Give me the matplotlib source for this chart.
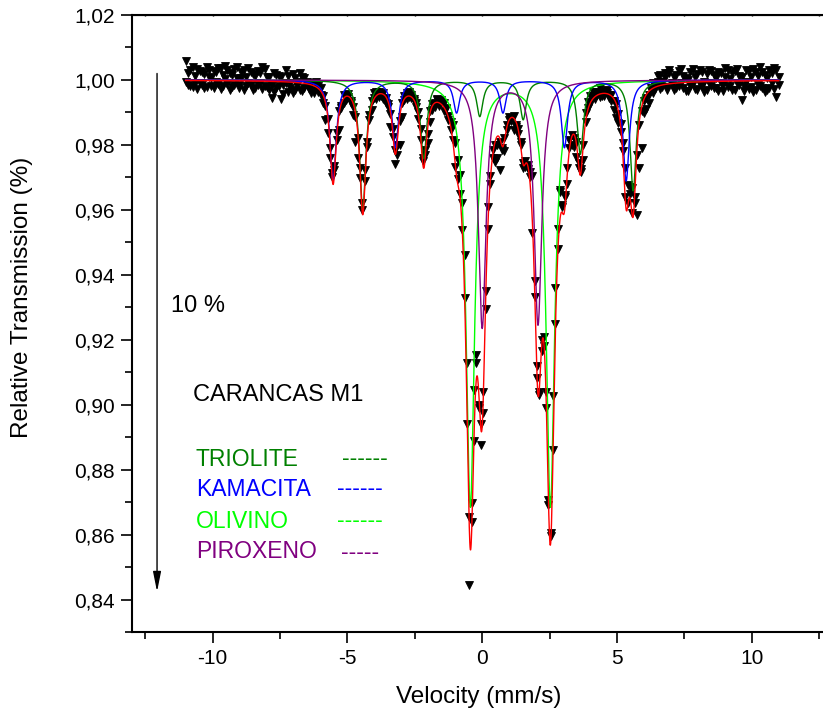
import matplotlib
matplotlib.use('Agg')
import matplotlib.pyplot as plt
from matplotlib.ticker import MultipleLocator, FuncFormatter
import numpy as np

plt.rcParams['font.family'] = ['Liberation Sans', 'DejaVu Sans']
plt.rcParams['axes.unicode_minus'] = False

# %% measured spectrum, both halves (256 channels each, -11 .. 11 mm/s)
velStart, velStop, nChan = -11.0, 11.0, 256
transmissionA = [
    1.0058, 0.9985, 1.0030, 0.9978, 1.0012, 1.0035, 0.9990, 1.0025, 0.9975, 1.0040,
    1.0008, 0.9982, 1.0028, 0.9995, 1.0038, 0.9972, 1.0015, 1.0042, 0.9988, 1.0020,
    0.9979, 1.0033, 1.0005, 0.9984, 1.0026, 0.9970, 1.0010, 1.0036, 0.9986, 1.0018,
    0.9976, 1.0028, 0.9992, 1.0040, 0.9980, 1.0008, 0.9968, 0.9944, 1.0022, 0.9975,
    1.0012, 0.9942, 0.9985, 1.0030, 0.9962, 0.9990, 1.0018, 0.9970, 0.9995, 1.0022,
    0.9965, 1.0005, 0.9985, 0.9980, 0.9960, 0.9959, 0.9995, 0.9980, 0.9955, 0.9930,
    0.9877, 0.9836, 0.9760, 0.9713, 0.9723, 0.9815, 0.9846, 0.9913, 0.9930, 0.9944,
    0.9949, 0.9935, 0.9892, 0.9810, 0.9759, 0.9698, 0.9620, 0.9723, 0.9810, 0.9892,
    0.9908, 0.9959, 0.9964, 0.9949, 0.9955, 0.9940, 0.9930, 0.9918, 0.9856, 0.9826,
    0.9742, 0.9770, 0.9800, 0.9887, 0.9938, 0.9959, 0.9948, 0.9955, 0.9940, 0.9918,
    0.9880, 0.9850, 0.9759, 0.9785, 0.9805, 0.9870, 0.9908, 0.9928, 0.9938, 0.9925,
    0.9938, 0.9928, 0.9910, 0.9877, 0.9872, 0.9862, 0.9805, 0.9754, 0.9708, 0.9620,
    0.9460, 0.9128, 0.8446, 0.8697, 0.9046, 0.9154, 0.9000, 0.8875, 0.8976, 0.9294,
    0.9610, 0.9703, 0.9785, 0.9749, 0.9800, 0.9723, 0.9785, 0.9780, 0.9862, 0.9877,
    0.9882, 0.9846, 0.9856, 0.9850, 0.9800, 0.9743, 0.9733, 0.9738, 0.9718, 0.9528,
    0.9333, 0.9083, 0.9041, 0.9200, 0.9210, 0.8990, 0.8706, 0.8607, 0.9026, 0.9359,
    0.9540, 0.9660, 0.9615, 0.9645, 0.9680, 0.9815, 0.9800, 0.9795, 0.9764, 0.9728,
    0.9718, 0.9754, 0.9897, 0.9933, 0.9950, 0.9964, 0.9958, 0.9954, 0.9974, 0.9950,
    0.9962, 0.9959, 0.9955, 0.9935, 0.9908, 0.9882, 0.9867, 0.9841, 0.9805, 0.9730,
    0.9677, 0.9672, 0.9667, 0.9620, 0.9585, 0.9728, 0.9790, 0.9897, 0.9910, 0.9928,
    0.9974, 0.9960, 0.9985, 1.0012, 0.9972, 0.9995, 1.0020, 0.9978, 1.0030, 0.9990,
    0.9968, 1.0015, 0.9982, 1.0034, 0.9975, 1.0005, 0.9965, 1.0025, 0.9988, 1.0010,
    0.9970, 1.0032, 0.9980, 0.9962, 1.0018, 0.9992, 1.0028, 0.9974, 1.0006, 0.9966,
    1.0022, 0.9985, 1.0036, 0.9978, 1.0003, 0.9969, 1.0027, 0.9990, 1.0012, 0.9938,
    0.9980, 1.0030, 0.9972, 1.0008, 0.9963, 1.0024, 0.9986, 1.0040, 0.9975, 1.0015,
    0.9968, 1.0032, 0.9992, 1.0038, 0.9949, 1.0010,
]
transmissionB = [
    0.9995, 1.0020, 0.9980, 1.0040, 0.9990, 0.9972, 1.0028, 0.9985, 1.0018, 0.9978,
    1.0032, 1.0005, 0.9975, 1.0024, 0.9988, 1.0036, 0.9982, 1.0002, 1.0030, 0.9970,
    1.0014, 0.9986, 1.0040, 0.9976, 1.0006, 1.0030, 0.9980, 0.9992, 1.0026, 0.9968,
    1.0012, 0.9984, 1.0020, 0.9972, 1.0034, 0.9978, 1.0010, 0.9985, 0.9962, 1.0016,
    0.9980, 1.0008, 0.9958, 0.9990, 1.0012, 0.9975, 0.9960, 1.0005, 0.9982, 0.9970,
    1.0010, 0.9975, 0.9995, 0.9972, 0.9990, 0.9970, 0.9985, 0.9962, 0.9975, 0.9950,
    0.9920, 0.9880, 0.9790, 0.9700, 0.9735, 0.9836, 0.9903, 0.9920, 0.9955, 0.9938,
    0.9958, 0.9930, 0.9918, 0.9885, 0.9820, 0.9730, 0.9600, 0.9690, 0.9795, 0.9878,
    0.9935, 0.9945, 0.9940, 0.9962, 0.9950, 0.9960, 0.9944, 0.9925, 0.9895, 0.9850,
    0.9785, 0.9800, 0.9875, 0.9930, 0.9950, 0.9940, 0.9962, 0.9945, 0.9935, 0.9930,
    0.9900, 0.9815, 0.9750, 0.9770, 0.9835, 0.9905, 0.9925, 0.9918, 0.9942, 0.9920,
    0.9932, 0.9905, 0.9915, 0.9890, 0.9845, 0.9815, 0.9733, 0.9695, 0.9650, 0.9538,
    0.9330, 0.8940, 0.8656, 0.8640, 0.8890, 0.9128, 0.8990, 0.8940, 0.9040, 0.9350,
    0.9540, 0.9680, 0.9760, 0.9800, 0.9760, 0.9810, 0.9790, 0.9820, 0.9845, 0.9885,
    0.9875, 0.9890, 0.9860, 0.9835, 0.9810, 0.9730, 0.9750, 0.9725, 0.9700, 0.9703,
    0.9380, 0.9120, 0.9030, 0.9165, 0.9180, 0.9040, 0.8692, 0.8595, 0.8860, 0.9250,
    0.9480, 0.9656, 0.9610, 0.9640, 0.9728, 0.9790, 0.9830, 0.9820, 0.9810, 0.9745,
    0.9725, 0.9800, 0.9870, 0.9915, 0.9925, 0.9950, 0.9940, 0.9962, 0.9948, 0.9966,
    0.9952, 0.9968, 0.9945, 0.9955, 0.9935, 0.9925, 0.9895, 0.9865, 0.9780, 0.9640,
    0.9620, 0.9650, 0.9590, 0.9641, 0.9770, 0.9860, 0.9905, 0.9935, 0.9945, 0.9954,
    0.9965, 0.9990, 0.9972, 0.9995, 1.0015, 0.9978, 1.0005, 0.9968, 1.0022, 0.9985,
    1.0010, 0.9975, 1.0028, 0.9990, 1.0012, 0.9966, 1.0000, 0.9980, 1.0033, 0.9972,
    1.0018, 0.9988, 1.0024, 0.9995, 0.9970, 1.0030, 0.9982, 1.0015, 0.9975, 1.0026,
    0.9992, 0.9965, 1.0008, 1.0030, 0.9980, 1.0020, 0.9970, 1.0034, 0.9985, 1.0010,
    0.9966, 0.9995, 1.0028, 0.9978, 1.0035, 0.9970, 1.0012, 0.9980, 1.0026, 0.9962,
    1.0005, 0.9975, 1.0020, 0.9972, 1.0030, 0.9985,
]
assert len(transmissionA) == nChan and len(transmissionB) == nChan

# %% fitted subspectra (line positions in mm/s, depths, half widths)
kamPos = [-5.53, -3.22, -0.95, 0.77, 3.05, 5.34]
kamDepth = [0.031, 0.0207, 0.010, 0.010, 0.0207, 0.031]
kamWidth = 0.14
troPos = [-4.43, -2.17, -0.09, 1.52, 3.64, 5.60]
troDepth = [0.040, 0.024, 0.011, 0.012, 0.0226, 0.034]
troWidth = 0.14
oliPos = [-0.44, 2.53]
oliDepth = [0.131, 0.131]
oliWidth = 0.19
pirPos = [0.0, 2.07]
pirDepth = [0.076, 0.075]
pirWidth = 0.17


def dips(v, pos, depth, width):
    # sum of lorentzian absorption lines
    out = np.zeros_like(v)
    for p, d in zip(pos, depth):
        out += d / (1 + ((v - p) / width) ** 2)
    return out


vel = np.linspace(velStart, velStop, nChan)
v = np.linspace(velStart, velStop, 2201)
kam = dips(v, kamPos, kamDepth, kamWidth)
tro = dips(v, troPos, troDepth, troWidth)
oli = dips(v, oliPos, oliDepth, oliWidth)
pir = dips(v, pirPos, pirDepth, pirWidth)

# %% plot
fig = plt.figure(figsize=(8.23, 7.26), dpi=100)
ax = fig.add_axes([131.7 / 823, 1 - 632.3 / 726, 701 / 823, 617.3 / 726])

for t in (transmissionA, transmissionB):
    ax.plot(vel, t, linestyle='none', marker='v', markersize=5.5,
            color='black', markeredgewidth=0.6)
ax.plot(v, 1 - oli, color='#00ff00', lw=1)
ax.plot(v, 1 - tro, color='#008000', lw=1)
ax.plot(v, 1 - kam, color='#0000ff', lw=1)
ax.plot(v, 1 - pir, color='#800080', lw=1)
ax.plot(v, 1 - (oli + tro + kam + pir), color='#ff0000', lw=1)

ax.set_xlim(-13, 13)
ax.set_ylim(0.83, 1.02)
ax.xaxis.set_major_locator(MultipleLocator(5))
ax.xaxis.set_minor_locator(MultipleLocator(2.5))
ax.yaxis.set_major_locator(MultipleLocator(0.02))
ax.yaxis.set_minor_locator(MultipleLocator(0.01))
ax.yaxis.set_major_formatter(FuncFormatter(lambda y, p: f'{y:.2f}'.replace('.', ',')))
ax.tick_params(which='major', length=8, width=1.2, labelsize=15, pad=4)
ax.tick_params(which='minor', length=5, width=1.2)
for s in ['left', 'bottom', 'top']:
    ax.spines[s].set_linewidth(1.5)
ax.spines['right'].set_visible(False)

top = ax.secondary_xaxis('top')
top.xaxis.set_major_locator(MultipleLocator(2.5))
top.tick_params(length=2, direction='inout', labeltop=False, width=1)

# 10 % scale arrow
ax.annotate('', xy=(-12.06, 0.8425), xytext=(-12.06, 1.002),
            arrowprops=dict(arrowstyle='-|>,head_length=0.6,head_width=0.12',
                            color='black', lw=1, mutation_scale=20, shrinkA=0, shrinkB=0))

fig.text(171 / 823, 1 - 306 / 726, '10 %', fontsize=17, va='center')
fig.text(193 / 823, 1 - 395 / 726, 'CARANCAS M1', fontsize=17, va='center')
legend = [('TRIOLITE', '------', '#008000', 459, 341.7),
          ('KAMACITA', '------', '#0000ff', 489, 336.7),
          ('OLIVINO', '------', '#00ff00', 521, 337),
          ('PIROXENO', '-----', '#800080', 552, 340.7)]
for name, dash, c, y, xd in legend:
    fig.text(196 / 823, 1 - y / 726, name, fontsize=16.5, color=c, va='center')
    fig.text(xd / 823, 1 - y / 726, dash, fontsize=16.5, color=c, va='center')

fig.text(22 / 823, 1 - 297 / 726, 'Relative Transmission (%)', fontsize=17.5,
         rotation=90, ha='center', va='center')
fig.text(479 / 823, 1 - 697 / 726, 'Velocity (mm/s)', fontsize=17.5,
         ha='center', va='center')

fig.savefig('out.png', dpi=100)
